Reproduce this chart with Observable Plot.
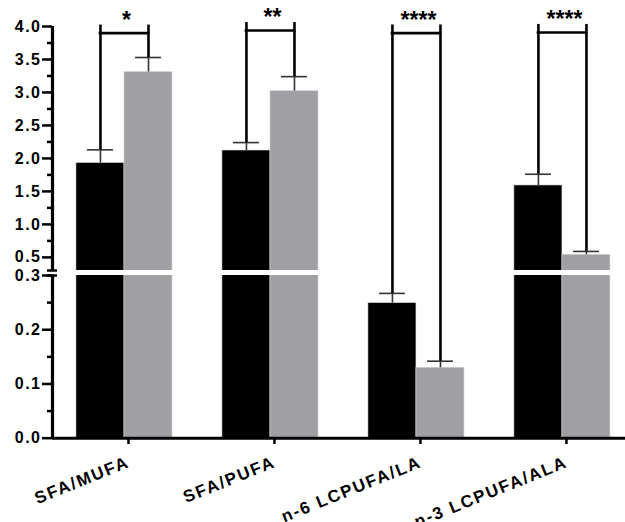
<!DOCTYPE html>
<html>
<head>
<meta charset="utf-8">
<script src="https://cdn.jsdelivr.net/npm/d3@7"></script>
<script src="https://cdn.jsdelivr.net/npm/@observablehq/plot@0.6"></script>
<style>
  html, body { margin: 0; padding: 0; background: #fff; }
  svg { display: block; }
</style>
</head>
<body>
<div id="chart"></div>
<script>
// ---- data ----
const categories = ["SFA/MUFA", "SFA/PUFA", "n-6 LCPUFA/LA", "n-3 LCPUFA/ALA"];
const controlMean = [1.93, 2.12, 0.249, 1.59];
const controlSD   = [0.20, 0.12, 0.018, 0.17];
const treatMean   = [3.31, 3.02, 0.130, 0.54];
const treatSD     = [0.22, 0.22, 0.012, 0.05];
const significance = ["*", "**", "****", "****"];
const bracketTop = [3.90, 3.94, 3.90, 3.91];
const majorTicks = [0, 0.1, 0.2, 0.3, 0.5, 1.0, 1.5, 2.0, 2.5, 3.0, 3.5, 4.0];
const minorTicks = [0.05, 0.15, 0.25, 0.75, 1.25, 1.75, 2.25, 2.75, 3.25, 3.75];

// ---- layout constants ----
const breakLow = 0.3, breakHigh = 0.301;   // axis break
const xDomain = [-0.493, 3.432];
const half = 0.329;       // bar width in category units
const capHalf = 0.089;    // error cap half width

const bars = [];
categories.forEach((c, i) => {
  bars.push({i, group: "control", mean: controlMean[i], sd: controlSD[i], x1: i - half, x2: i, xc: i - half / 2});
  bars.push({i, group: "treat", mean: treatMean[i], sd: treatSD[i], x1: i, x2: i + half, xc: i + half / 2});
});
const brackets = categories.map((c, i) => ({
  i, top: bracketTop[i], sig: significance[i],
  xl: i - half / 2, xr: i + half / 2,
  errL: controlMean[i] + controlSD[i], errR: treatMean[i] + treatSD[i]
}));
const axisSegments = [
  {x: xDomain[0], y1: 0, y2: breakLow},
  {x: xDomain[0], y1: breakHigh, y2: 4}
];
const breakMarks = [
  {y: breakLow, x1: xDomain[0] - 0.034, x2: xDomain[0] + 0.034},
  {y: breakHigh, x1: xDomain[0] - 0.034, x2: xDomain[0] + 0.034}
];

const chart = Plot.plot({
  width: 625,
  height: 522,
  marginLeft: 52,
  marginRight: 0,
  marginTop: 26,
  marginBottom: 84,
  style: {fontFamily: "'Liberation Sans', Arial, sans-serif", fontSize: "16px", color: "#000"},
  x: {type: "linear", domain: xDomain, axis: null},
  y: {type: "linear", domain: [0, breakLow, breakHigh, 4], range: [437.7, 275, 270, 26], axis: null},
  marks: [
    // bars
    Plot.rectY(bars, {x1: "x1", x2: "x2", y1: 0, y2: "mean",
      fill: d => d.group === "control" ? "#000000" : "#a09fa4",
      stroke: "#d8d8d8", strokeWidth: 0.6}),
    // axis break gap
    Plot.rectY([0], {y1: breakLow, y2: breakHigh, fill: "#ffffff"}),
    // error bars
    Plot.ruleX(bars, {x: "xc", y1: "mean", y2: d => d.mean + d.sd, stroke: "#333", strokeWidth: 1.6}),
    Plot.ruleY(bars, {y: d => d.mean + d.sd, x1: d => d.xc - capHalf, x2: d => d.xc + capHalf, stroke: "#333", strokeWidth: 1.6}),
    // significance brackets
    Plot.ruleX(brackets, {x: "xl", y1: "errL", y2: "top", insetBottom: 8, stroke: "#000", strokeWidth: 2.6}),
    Plot.ruleX(brackets, {x: "xr", y1: "errR", y2: "top", insetBottom: 8, stroke: "#000", strokeWidth: 2.6}),
    Plot.ruleY(brackets, {y: "top", x1: "xl", x2: "xr", stroke: "#000", strokeWidth: 2.6, strokeLinecap: "square"}),
    Plot.text(brackets, {x: "i", y: "top", text: "sig", dy: -5, dx: 2, fontSize: 23, fontWeight: "bold",
      lineAnchor: "bottom", ariaLabel: "significance"}),
    // y axis ticks
    Plot.axisY({ticks: majorTicks, tickFormat: d3.format(".1f"), tickSize: 10, tickPadding: 1,
      strokeWidth: 2.5, fontSize: 16, fontWeight: "bold", label: null}),
    Plot.axisY({ticks: minorTicks, tickFormat: () => "", tickSize: 5, strokeWidth: 2.5, label: null}),
    // x axis ticks and labels
    Plot.axisX({ticks: [0, 1, 2, 3], tickFormat: i => categories[i], tickSize: 6, tickPadding: 17, dx: 4,
      tickRotate: -22, strokeWidth: 2.5, fontSize: 17, fontWeight: "bold", label: null}),
    // x axis line
    Plot.ruleY([0], {x1: xDomain[0], x2: xDomain[1], stroke: "#000", strokeWidth: 3}),
    // y axis line (broken) and break marks
    Plot.ruleX(axisSegments, {x: "x", y1: "y1", y2: "y2", stroke: "#000", strokeWidth: 3.2}),
    Plot.ruleY(breakMarks, {y: "y", x1: "x1", x2: "x2", stroke: "#000", strokeWidth: 2.5})
  ]
});
// letter spacing on texts (style only)
chart.querySelectorAll("g[aria-label='y-axis tick label'] text").forEach(t => t.setAttribute("letter-spacing", "1.5"));
chart.querySelectorAll("g[aria-label='x-axis tick label'] text").forEach(t => t.setAttribute("letter-spacing", "1.8"));
chart.querySelectorAll("g[aria-label='significance'] text").forEach(t => t.setAttribute("letter-spacing", "4"));
document.getElementById("chart").append(chart);
</script>
</body>
</html>
